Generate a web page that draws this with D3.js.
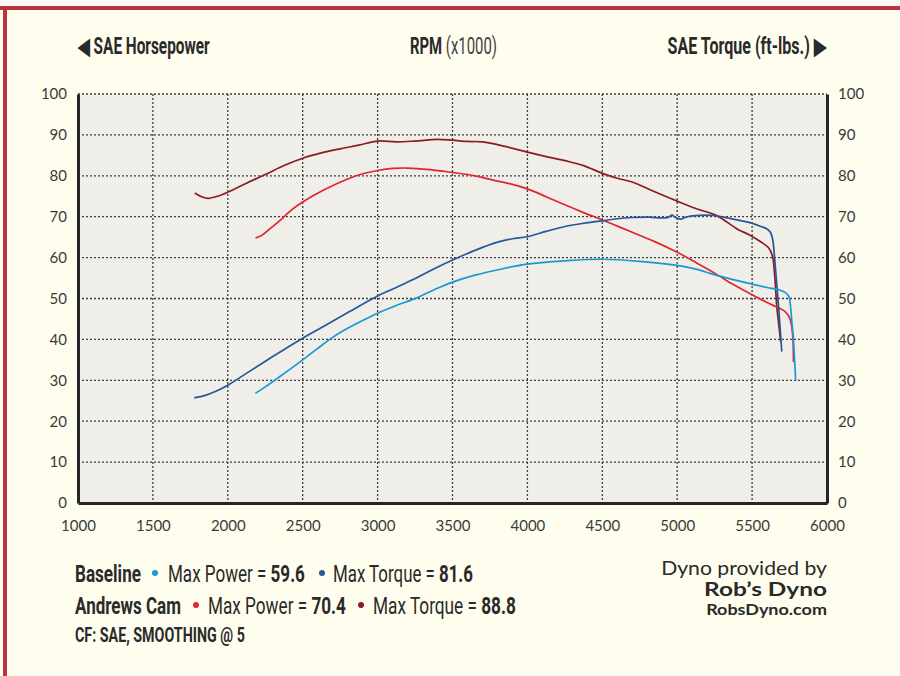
<!DOCTYPE html>
<html><head><meta charset="utf-8">
<script src="https://cdn.jsdelivr.net/npm/d3@7"></script>
<style>
html,body{margin:0;padding:0;background:#fffeee;}
svg{display:block;}
</style></head>
<body>
<svg id="chart" width="900" height="676"></svg>
<script>
// ---- data ----
const xTicks = [1000,1500,2000,2500,3000,3500,4000,4500,5000,5500,6000];
const yTicks = [0,10,20,30,40,50,60,70,80,90,100];

const andrewsTorque = [[1780,75.8],[1830,74.8],[1870,74.5],[1930,75.0],[2000,76.0],[2125,78.2],[2250,80.3],[2375,82.5],[2500,84.3],[2625,85.6],[2750,86.6],[2875,87.5],[3000,88.5],[3125,88.3],[3250,88.5],[3400,88.9],[3500,88.7],[3600,88.4],[3700,88.3],[3850,87.2],[4000,85.8],[4125,84.7],[4250,83.7],[4375,82.5],[4500,80.6],[4600,79.4],[4700,78.5],[4850,76.1],[5000,73.8],[5125,72.0],[5250,70.5],[5300,69.5],[5400,67.0],[5480,65.6],[5560,63.8],[5610,62.4],[5635,60.5],[5650,56],[5665,48],[5680,43],[5690,39.5]];
const andrewsPower = [[2185,64.8],[2230,65.5],[2280,67.0],[2370,69.8],[2430,71.8],[2500,73.6],[2640,76.5],[2800,79.2],[2900,80.5],[3000,81.3],[3100,81.8],[3200,81.9],[3350,81.5],[3500,80.8],[3650,80.0],[3800,78.7],[3900,77.9],[4000,76.8],[4125,74.9],[4250,72.9],[4375,71.0],[4500,69.2],[4600,67.7],[4700,66.2],[4850,63.9],[5000,61.3],[5130,58.7],[5250,56.2],[5375,53.4],[5500,50.9],[5600,49.0],[5660,48.0],[5720,46.8],[5750,45.3],[5765,43],[5773,40],[5776,34.5]];
const baselineTorque = [[1776,25.7],[1850,26.3],[1920,27.3],[2000,28.8],[2150,32.3],[2300,35.8],[2400,38.1],[2500,40.3],[2650,43.4],[2813,46.8],[3000,50.6],[3125,52.7],[3258,55.0],[3375,57.2],[3500,59.4],[3600,61.0],[3700,62.5],[3813,63.9],[3900,64.6],[4000,65.1],[4125,66.4],[4250,67.6],[4375,68.4],[4500,69.0],[4600,69.5],[4700,69.8],[4810,69.9],[4900,69.7],[4940,69.8],[4965,70.4],[4985,69.9],[5020,69.4],[5060,69.9],[5100,70.2],[5250,70.3],[5350,69.6],[5480,68.6],[5560,67.6],[5600,67.0],[5622,66.2],[5638,64.3],[5650,60],[5660,55.5],[5680,46.4],[5698,37.0]];
const baselinePower = [[2184,26.8],[2250,28.4],[2324,30.3],[2400,32.3],[2500,35.0],[2600,37.8],[2700,40.5],[2800,42.7],[2900,44.6],[3000,46.4],[3125,48.3],[3258,50.1],[3375,52.1],[3500,54.0],[3650,55.7],[3813,57.1],[4000,58.4],[4250,59.2],[4500,59.6],[4750,59.1],[5000,58.1],[5125,57.2],[5258,55.7],[5375,54.6],[5500,53.5],[5600,52.7],[5680,52.1],[5720,51.5],[5745,50.5],[5758,47.5],[5766,44],[5774,41],[5782,36],[5791,30.0]];

const seriesNames = ["Andrews Torque","Andrews Power","Baseline Torque","Baseline Power"];
const seriesData = [andrewsTorque, andrewsPower, baselineTorque, baselinePower];
const seriesColors = ["#8e1b22","#e0262f","#24579b","#1a98d6"];

const legendRows = [
  {name:"Baseline", power:"59.6", torque:"81.6", pc:seriesColors[3], tc:seriesColors[2]},
  {name:"Andrews Cam", power:"70.4", torque:"88.8", pc:seriesColors[1], tc:seriesColors[0]}
];

// ---- layout ----
const svg = d3.select("#chart");
const W = 900, H = 676;
const m = {left:78, right:827, top:94, bottom:503};
const cond = "'Roboto','Liberation Sans',sans-serif";
const geo = "'Lato','Open Sans',sans-serif";

// helper: text fitted horizontally to a width (anchor start or end)
function fitText(x0, yb, width, anchor, build){
  const g = svg.append("g");
  const t = g.append("text").attr("x",0).attr("y",0).attr("text-anchor",anchor);
  build(t);
  const w = t.node().getComputedTextLength();
  const s = width / w;
  g.attr("transform",`translate(${x0},${yb}) scale(${s},1)`);
  return t;
}

// frame
svg.append("rect").attr("x",0).attr("y",0).attr("width",W).attr("height",H).attr("fill","#fffeee");
svg.append("rect").attr("x",0).attr("y",0).attr("width",W).attr("height",6).attr("fill","#f7f7f7");
svg.append("rect").attr("x",0).attr("y",6).attr("width",W).attr("height",4).attr("fill","#b8343c");
svg.append("rect").attr("x",3).attr("y",6).attr("width",4).attr("height",H-6).attr("fill","#b8343c");

const x = d3.scaleLinear().domain([1000,6000]).range([m.left,m.right]);
const y = d3.scaleLinear().domain([0,100]).range([m.bottom,m.top]);

// plot background
svg.append("rect").attr("x",m.left).attr("y",m.top).attr("width",m.right-m.left).attr("height",m.bottom-m.top).attr("fill","#efeee8");

// grid
const g = svg.append("g");
g.selectAll("line.vg").data(xTicks.filter(d=>d>1000&&d<6000)).join("line")
  .attr("x1",d=>x(d)).attr("x2",d=>x(d)).attr("y1",m.top).attr("y2",m.bottom)
  .attr("stroke","#3c3c3c").attr("stroke-width",1.3).attr("stroke-dasharray","2,2");
g.selectAll("line.hg").data(yTicks.filter(d=>d>0)).join("line")
  .attr("x1",m.left).attr("x2",m.right).attr("y1",d=>y(d)).attr("y2",d=>y(d))
  .attr("stroke","#3c3c3c").attr("stroke-width",1.3).attr("stroke-dasharray","2,2");

// axes
const axL = d3.axisLeft(y).tickValues(yTicks).tickSize(0).tickPadding(11);
const axR = d3.axisRight(y).tickValues(yTicks).tickSize(0).tickPadding(11);
const axB = d3.axisBottom(x).tickValues(xTicks).tickSize(0).tickPadding(17).tickFormat(d3.format("d"));
function styleAxis(sel){
  sel.select(".domain").attr("stroke","#262626").attr("stroke-width",3);
  sel.selectAll("text").attr("font-family",geo).attr("font-size",15).attr("fill","#3a3a3a");
}
svg.append("g").attr("transform",`translate(${m.left},0)`).call(axL).call(styleAxis);
svg.append("g").attr("transform",`translate(${m.right},0)`).call(axR).call(styleAxis);
svg.append("g").attr("transform",`translate(0,${m.bottom})`).call(axB).call(styleAxis);

// lines
const line = d3.line().x(d=>x(d[0])).y(d=>y(d[1])).curve(d3.curveCatmullRom.alpha(0.5));
svg.append("g").selectAll("path").data(seriesData).join("path")
  .attr("d",line).attr("fill","none").attr("stroke",(d,i)=>seriesColors[i])
  .attr("stroke-width",1.7).attr("stroke-linejoin","round");

// header
const hdr = t => t.attr("font-family",cond).attr("font-weight","bold").attr("font-size",23).attr("fill","#2a2a2a");
fitText(78,54,132,"start",t=>{hdr(t); t.text("◀ SAE Horsepower");});
fitText(410,54,87,"start",t=>{hdr(t); t.append("tspan").text("RPM");
  t.append("tspan").attr("font-weight","normal").attr("fill","#444").text(" (x1000)");});
fitText(826,54,159,"end",t=>{hdr(t); t.text("SAE Torque (ft-lbs.) ▶");});

// legend
const legendLayout = [
  {nameW:66, dot1:155, pX:168, pW:137, dot2:322, tX:333, tW:140},
  {nameW:106, dot1:196, pX:208, pW:138, dot2:361, tX:373, tW:143}
];
legendRows.forEach((r,i)=>{
  const L = legendLayout[i], yb = 582+i*32;
  const base = t => t.attr("font-family",cond).attr("font-size",24).attr("fill","#2a2a2a");
  fitText(75,yb,L.nameW,"start",t=>{base(t); t.attr("font-weight","bold").text(r.name);});
  svg.append("circle").attr("cx",L.dot1).attr("cy",yb-9).attr("r",3).attr("fill",r.pc);
  fitText(L.pX,yb,L.pW,"start",t=>{base(t); t.append("tspan").text("Max Power = ");
    t.append("tspan").attr("font-weight","bold").text(r.power);});
  svg.append("circle").attr("cx",L.dot2).attr("cy",yb-9).attr("r",3).attr("fill",r.tc);
  fitText(L.tX,yb,L.tW,"start",t=>{base(t); t.append("tspan").text("Max Torque = ");
    t.append("tspan").attr("font-weight","bold").text(r.torque);});
});
fitText(75,642,170,"start",t=>{t.attr("font-family",cond).attr("font-weight","bold")
  .attr("font-size",20).attr("fill","#2a2a2a").text("CF: SAE, SMOOTHING @ 5");});

// credit
fitText(827,575,166,"end",t=>{t.attr("font-family",geo).attr("font-size",19).attr("fill","#2a2a2a").text("Dyno provided by");});
fitText(827,596,123,"end",t=>{t.attr("font-family",geo).attr("font-weight","bold").attr("font-size",19).attr("fill","#2a2a2a").text("Rob’s Dyno");});
fitText(827,615,121,"end",t=>{t.attr("font-family",geo).attr("font-weight","bold").attr("font-size",15).attr("fill","#2a2a2a").text("RobsDyno.com");});
</script>
</body></html>
